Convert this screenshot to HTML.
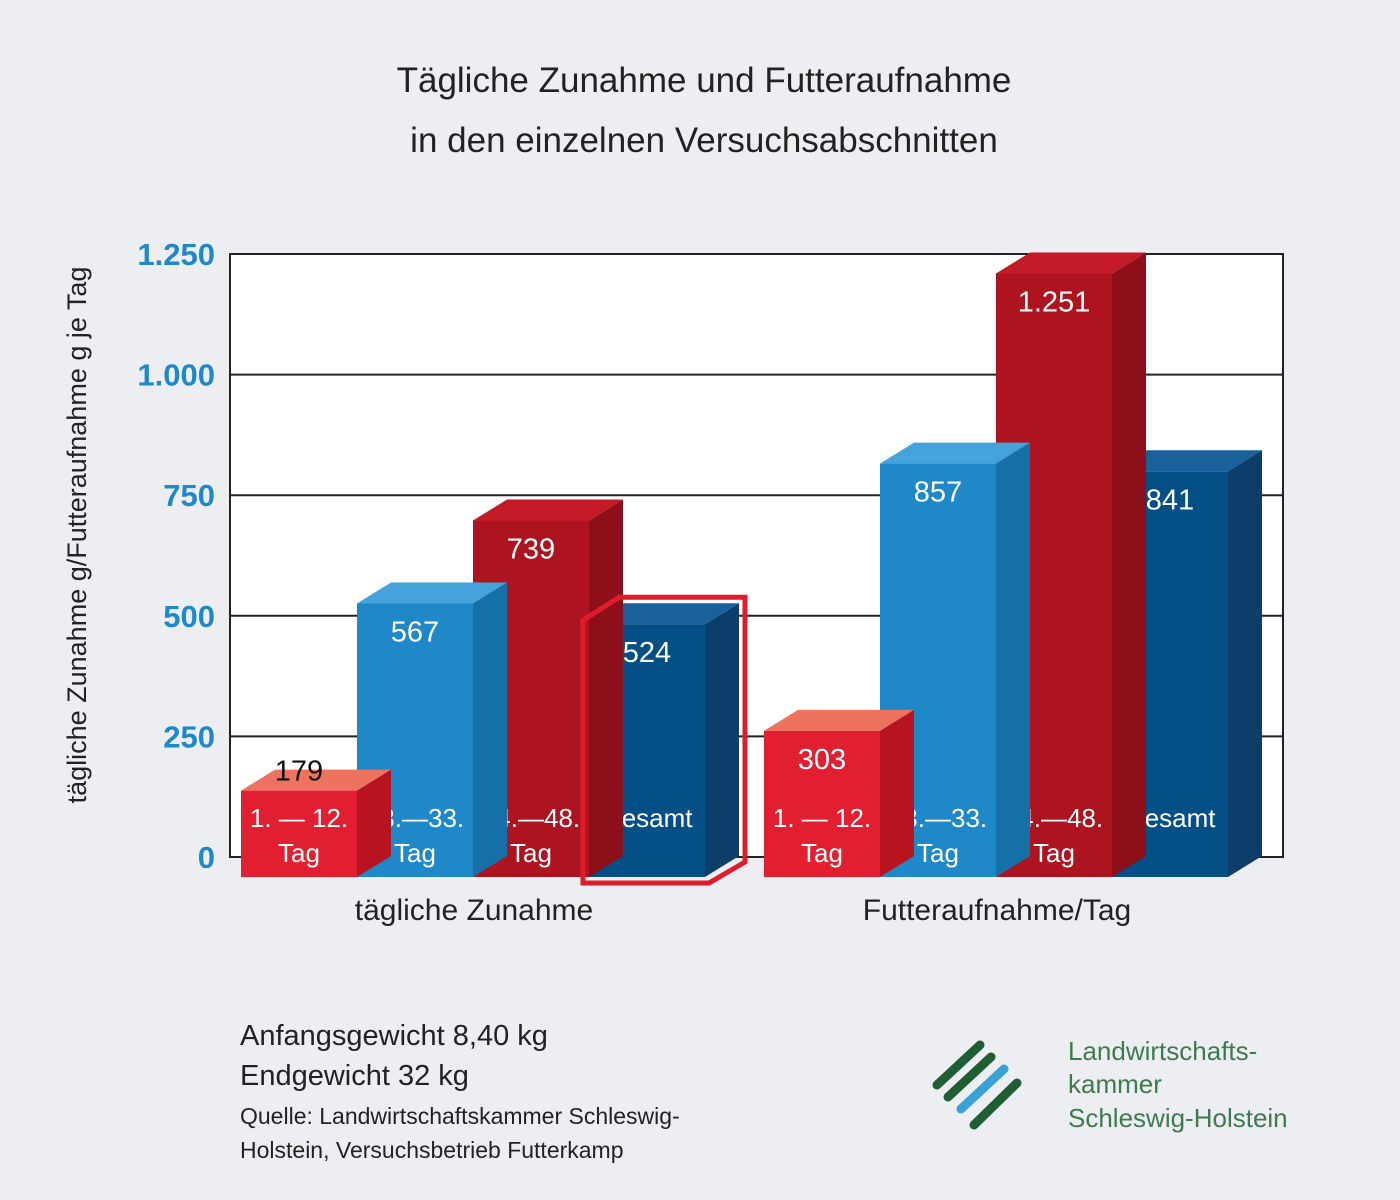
<!DOCTYPE html>
<html><head><meta charset="utf-8"><style>
body{margin:0;background:#eceef2;}
svg{display:block;font-family:"Liberation Sans",sans-serif;}
</style></head><body>
<svg id="c" width="1400" height="1200" viewBox="0 0 1400 1200">
<rect x="0" y="0" width="1400" height="1200" fill="#eceef2"/>
<text x="704" y="92" font-size="35" text-anchor="middle" fill="#222">Tägliche Zunahme und Futteraufnahme</text>
<text x="704" y="152" font-size="35" text-anchor="middle" fill="#222">in den einzelnen Versuchsabschnitten</text>
<rect x="230" y="254" width="1053" height="603" fill="#fff" stroke="#222" stroke-width="2"/>
<g id="grid"></g>
<g id="bars"></g>
<text transform="translate(86,535) rotate(-90)" font-size="27" text-anchor="middle" fill="#222">tägliche Zunahme g/Futteraufnahme g je Tag</text>
<text x="474" y="920" font-size="30" text-anchor="middle" fill="#222">tägliche Zunahme</text>
<text x="997" y="920" font-size="30" text-anchor="middle" fill="#222">Futteraufnahme/Tag</text>
<text x="240" y="1045" font-size="29" fill="#222">Anfangsgewicht 8,40 kg</text>
<text x="240" y="1085" font-size="29" fill="#222">Endgewicht 32 kg</text>
<text x="240" y="1124" font-size="23" fill="#222">Quelle: Landwirtschaftskammer Schleswig-</text>
<text x="240" y="1158" font-size="23" fill="#222">Holstein, Versuchsbetrieb Futterkamp</text>
<g>
<line x1="937" y1="1085" x2="980" y2="1045" stroke="#1f5e32" stroke-width="9" stroke-linecap="round"/>
<line x1="948" y1="1097" x2="991" y2="1057" stroke="#1f5e32" stroke-width="9" stroke-linecap="round"/>
<line x1="961" y1="1109" x2="1004" y2="1069" stroke="#3aa0d8" stroke-width="9" stroke-linecap="round"/>
<line x1="974" y1="1125" x2="1017" y2="1083" stroke="#1f5e32" stroke-width="9" stroke-linecap="round"/>
<text x="1068" y="1060" font-size="26" fill="#3f7a4f">Landwirtschafts-</text>
<text x="1068" y="1093" font-size="26" fill="#3f7a4f">kammer</text>
<text x="1068" y="1127" font-size="26" fill="#3f7a4f">Schleswig-Holstein</text>
</g>
</svg>
<script>
const tickValues=[0,250,500,750,1000,1250];
const tickLabels=["0","250","500","750","1.000","1.250"];
const zunahmeValues=[179,567,739,524];
const futterValues=[303,857,1251,841];
const valueLabelsZ=["179","567","739","524"];
const valueLabelsF=["303","857","1.251","841"];
const periodTop=["1. — 12.","13.—33.","34.—48.","Gesamt"];
const periodBottom=["Tag","Tag","Tag",""];

const NS="http://www.w3.org/2000/svg";
const yMin=857, yMax=254, vMax=1250;
function y(v){return yMin-(v/vMax)*(yMin-yMax);}
const DX=34, DY=-21; // 3D offset (back relative to front)
function el(tag,attrs,parent){const e=document.createElementNS(NS,tag);for(const k in attrs)e.setAttribute(k,attrs[k]);parent.appendChild(e);return e;}
const grid=document.getElementById('grid');
tickValues.forEach((v,i)=>{
  if(v>0&&v<vMax){const l=el('line',{x1:230,x2:1283,y1:y(v),y2:y(v),stroke:'#222','stroke-width':2},grid);
  
  }
  const t=el('text',{x:215,y:y(v)+11,'font-size':31,'text-anchor':'end',fill:'#1e88c8','font-weight':'bold'},grid);
  t.textContent=tickLabels[i];
  
  
});
const styles=[
 {front:'#e21f30',top:'#ee735f',side:'#b8141f'},
 {front:'#1e88c8',top:'#45a3dc',side:'#1670a8'},
 {front:'#ae1420',top:'#c41a28',side:'#8c0f19'},
 {front:'#044f86',top:'#1a609a',side:'#0c3e69'}
];
const bars=document.getElementById('bars');
const W=116;
function drawGroup(vals,labels,x0,name){
  // draw right to left so left bars overlap? draw left to right, side faces hidden by next bar front
  for(let i=vals.length-1;i>=0;i--){
    const xL=x0+i*W, xR=xL+W, base=877, top=base-(vals[i]/vMax)*(yMin-yMax);
    const s=styles[i];
    const g=el('g',{},bars);
    
    
    el('polygon',{points:`${xR},${top} ${xR+DX},${top+DY} ${xR+DX},${base+DY} ${xR},${base}`,fill:s.side},g);
    el('polygon',{points:`${xL},${top} ${xL+DX},${top+DY} ${xR+DX},${top+DY} ${xR},${top}`,fill:s.top},g);
    el('rect',{x:xL,y:top,width:W,height:base-top,fill:s.front},g);
    const t=el('text',{x:xL+W/2,y:vals[i]<250?top-10:top+38,'font-size':29,'text-anchor':'middle',fill:vals[i]<250?'#111':'#fff'},bars);
    t.textContent=labels[i];
    
    
    const c1=el('text',{x:xL+W/2,y:827,'font-size':26,'text-anchor':'middle',fill:'#fff'},bars);
    c1.textContent=periodTop[i];
    
    
    const c2=el('text',{x:xL+W/2,y:862,'font-size':26,'text-anchor':'middle',fill:'#fff'},bars);
    c2.textContent=periodBottom[i];
    
    
  }
  // outline on bars
  const o=el('rect',{x:x0,y:877-(Math.max(...vals)/vMax)*(yMin-yMax),width:W*4,height:0,fill:'none'},bars);
  
  
}
drawGroup(zunahmeValues,valueLabelsZ,241,'zunahme');
drawGroup(futterValues,valueLabelsF,764,'futter');
// highlight around Gesamt bar in first group
const gx=241+3*W, gt=877-(zunahmeValues[3]/vMax)*(yMin-yMax);
const hl=el('polygon',{points:`${gx-6},${gt-4} ${gx+DX-4},${gt+DY-6} ${gx+W+DX+6},${gt+DY-6} ${gx+W+DX+6},${877+DY+6} ${gx+W+4},${883} ${gx-6},${883}`,fill:'none',stroke:'#e01b2a','stroke-width':5},bars);


</script>
</body></html>
